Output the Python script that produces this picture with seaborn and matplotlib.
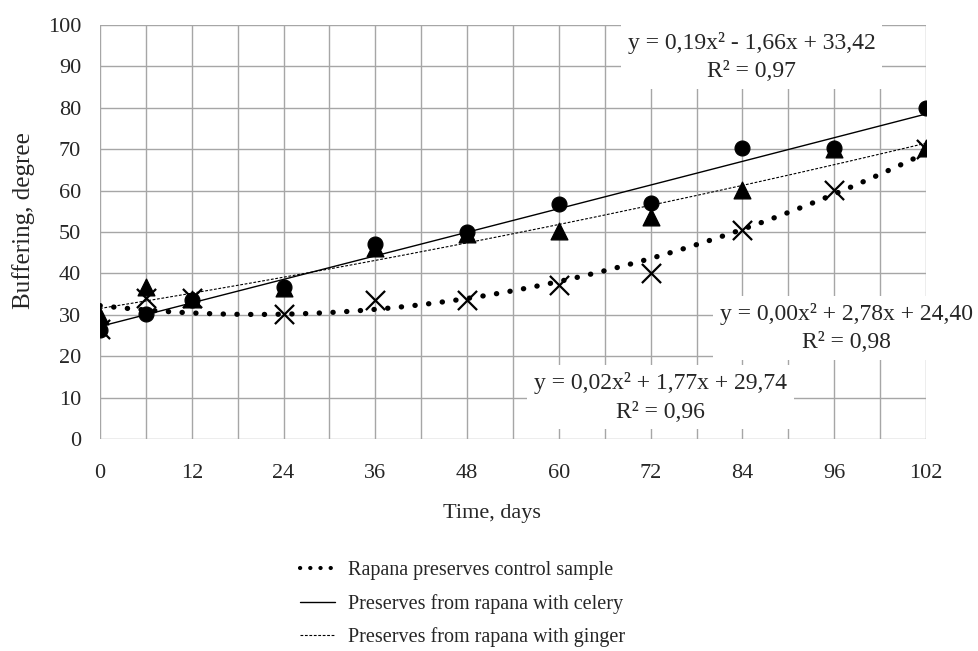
import numpy as np
import pandas as pd
import matplotlib
matplotlib.use("Agg")
import matplotlib.pyplot as plt
from matplotlib.lines import Line2D
import seaborn as sns

# data
days = [0, 6, 12, 24, 36, 48, 60, 72, 84, 96, 102]
tick_days = [0, 12, 24, 36, 48, 60, 72, 84, 96, 102]
control = [26.5, 34, 34, 30.2, 33.6, 33.6, 37.2, 40, 50.5, 60.2, 70]
celery = [26.4, 30.2, 33.6, 36.8, 47, 50, 56.8, 56.9, 70.2, 70.2, 80]
ginger = [29.8, 36.7, 33.8, 36.5, 46.2, 49.5, 50.3, 53.7, 60.2, 70, 70.2]

legend_labels = ["Rapana preserves control sample",
                 "Preserves from rapana with celery",
                 "Preserves from rapana with ginger"]
eq_control = "y = 0,02x² + 1,77x + 29,74\nR² = 0,96"
eq_celery = "y = 0,19x² - 1,66x + 33,42\nR² = 0,97"
eq_ginger = "y = 0,00x² + 2,78x + 24,40\nR² = 0,98"

sns.set_style("white")
plt.rcParams["font.family"] = ["Liberation Serif", "DejaVu Serif"]
plt.rcParams["font.size"] = 15

# category-like axis: ticks equally spaced, 6 days sits half way
tick_pos = np.arange(len(tick_days))
pos = np.interp(days, tick_days, tick_pos)

df = pd.DataFrame({"pos": pos, "control": control, "celery": celery, "ginger": ginger})

# quadratic trend lines, like the excel ones
xs = np.linspace(0, tick_pos[-1], 200)
fit = pd.DataFrame({
    "pos": xs,
    "control": np.polyval(np.polyfit(pos, control, 2), xs),
    "celery": np.polyval(np.polyfit(pos, celery, 2), xs),
    "ginger": np.polyval(np.polyfit(pos, ginger, 2), xs),
})

fig = plt.figure(figsize=(9.79, 6.51), dpi=100)
ax = fig.add_axes([100 / 979, 1 - 439 / 651, 826 / 979, 414 / 651])

grid_c = "#a6a6a6"
for v in np.arange(0, tick_pos[-1] + 0.01, 0.5):
    ax.axvline(v, color=grid_c, lw=1, zorder=0)
for v in range(0, 101, 10):
    ax.axhline(v, color=grid_c, lw=1, zorder=0)

sns.lineplot(data=fit, x="pos", y="celery", ax=ax, color="black", lw=1.0,
             legend=False, zorder=3)
sns.lineplot(data=fit, x="pos", y="ginger", ax=ax, color="black", lw=0.8,
             legend=False, zorder=3)
ax.lines[-1].set_linestyle((0, (2.5, 1.5)))
sns.lineplot(data=fit, x="pos", y="control", ax=ax, color="black", lw=3.8,
             legend=False, zorder=3)
ax.lines[-1].set_linestyle((0, (0.05, 2.55)))
ax.lines[-1].set_dash_capstyle("round")

sns.scatterplot(data=df, x="pos", y="celery", ax=ax, marker="o", s=115,
                color="black", edgecolor="black", zorder=4)
sns.scatterplot(data=df, x="pos", y="ginger", ax=ax, marker="^", s=145,
                color="black", edgecolor="black", zorder=5)
sns.scatterplot(data=df, x="pos", y="control", ax=ax, marker="x", s=190,
                color="black", linewidth=1.6, zorder=6)

ax.set_xlim(0, tick_pos[-1])
ax.set_ylim(0, 100)
ax.set_xticks(tick_pos)
ax.set_xticklabels([str(d) for d in tick_days])
ax.set_xticks(np.arange(0.5, tick_pos[-1], 1), minor=True)
ax.set_yticks(range(0, 101, 10))
ax.tick_params(axis="both", which="both", direction="out", color=grid_c,
               length=6, width=1, labelsize=16)
ax.tick_params(axis="x", pad=12)
ax.tick_params(axis="y", pad=7.5)
for s in ax.spines.values():
    s.set_visible(False)

ax.set_xlabel("Time, days", fontsize=16)
ax.xaxis.set_label_coords(392 / 826, -65 / 414)
ax.set_ylabel("Buffering, degree", fontsize=18)
ax.yaxis.set_label_coords(-65 / 826, 218 / 414)

box = dict(facecolor="white", edgecolor="none", pad=5)
ax.text(7.1, 98.4, eq_celery, ha="center", va="top", fontsize=17,
        linespacing=1.45, bbox=box, zorder=7)
ax.text(8.13, 32.8, eq_ginger, ha="center", va="top", fontsize=17,
        linespacing=1.45, bbox=box, zorder=7)
ax.text(6.11, 16.1, eq_control, ha="center", va="top", fontsize=17,
        linespacing=1.45, bbox=box, zorder=7)

handles = [
    Line2D([], [], color="black", lw=3, linestyle=(0, (0.05, 2.4)),
           dash_capstyle="round"),
    Line2D([], [], color="black", lw=1.0),
    Line2D([], [], color="black", lw=0.8, linestyle=(0, (2.5, 1.5))),
]
ax.legend(handles, legend_labels,
          loc="upper left", bbox_to_anchor=(300 / 979, 1 - 561 / 651),
          bbox_transform=fig.transFigure, frameon=False, fontsize=14.5,
          handlelength=1.75, handletextpad=0.65, labelspacing=0.68,
          borderaxespad=0, borderpad=0)

fig.savefig("out.png", dpi=100)
